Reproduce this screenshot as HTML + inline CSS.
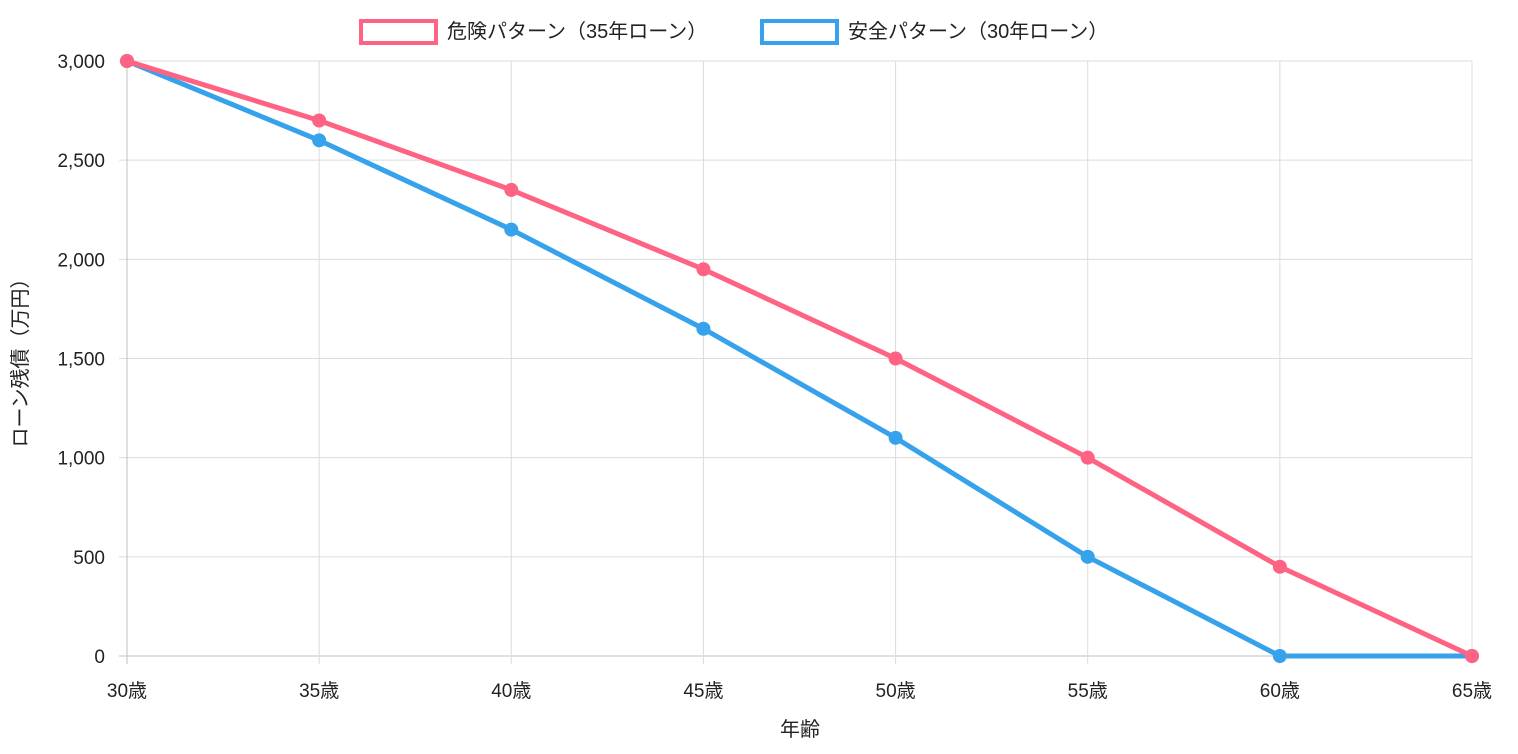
<!DOCTYPE html>
<html><head><meta charset="utf-8"><style>
body{margin:0;background:#fff;}
svg text{font-family:"Liberation Sans","Noto Sans CJK JP",sans-serif;fill:#222;}
</style></head><body>
<svg id="chart" width="1518" height="749" xmlns="http://www.w3.org/2000/svg">
<g id="grid"></g>
<g id="axes"></g>
<g id="series"></g>
<g>
<g>
<rect x="361" y="21" width="75" height="22" fill="#fff" stroke="#ff6384" stroke-width="4"/>
<text x="447" y="38" font-size="20">危険パターン（35年ローン）</text></g>
<g>
<rect x="762" y="21" width="75" height="22" fill="#fff" stroke="#36a2eb" stroke-width="4"/>
<text x="848" y="38" font-size="20">安全パターン（30年ローン）</text></g>
</g>
<text transform="translate(27,358) rotate(-90)" text-anchor="middle" font-size="20">ローン残債（万円）</text>
<text x="800" y="736" text-anchor="middle" font-size="20">年齢</text>
</svg>
<script>
const categories=["30歳","35歳","40歳","45歳","50歳","55歳","60歳","65歳"];
const dangerValues=[3000,2700,2350,1950,1500,1000,450,0];
const safeValues=[3000,2600,2150,1650,1100,500,0,0];
const yTicks=[0,500,1000,1500,2000,2500,3000];
const NS="http://www.w3.org/2000/svg";
const x0=127,x1=1472,yTop=61,yBot=656,yMax=3000;
const xs=i=>x0+(x1-x0)*i/(categories.length-1);
const ys=v=>yBot-(yBot-yTop)*v/yMax;
function mk(tag,attrs,parent){const e=document.createElementNS(NS,tag);for(const k in attrs)e.setAttribute(k,attrs[k]);parent.appendChild(e);return e;}
const grid=document.getElementById('grid'),axes=document.getElementById('axes'),series=document.getElementById('series');
yTicks.forEach(t=>{
 const l=mk('line',{x1:x0-8,x2:x1,y1:ys(t),y2:ys(t),stroke:t===0?'#c0c0c0':'#dcdcdc','stroke-width':1},grid);
 
 
 const tx=mk('text',{x:x0-22,y:ys(t)+7,'text-anchor':'end','font-size':19},axes);
 tx.textContent=t.toLocaleString('en-US');
 
 
});
categories.forEach((c,i)=>{
 const l=mk('line',{x1:xs(i),x2:xs(i),y1:yTop,y2:yBot+8,stroke:i===0?'#c0c0c0':'#dcdcdc','stroke-width':1},grid);
 
 
 const tx=mk('text',{x:xs(i),y:697,'text-anchor':'middle','font-size':19},axes);
 tx.textContent=c;
 
 
});
function draw(vals,color,name){
 const p=mk('polyline',{points:vals.map((v,i)=>xs(i)+','+ys(v)).join(' '),fill:'none',stroke:color,'stroke-width':5,'stroke-linejoin':'round'},series);
 
 
 vals.forEach((v,i)=>{
  const c=mk('circle',{cx:xs(i),cy:ys(v),r:7,fill:color},series);
  
  
 });
}
draw(safeValues,'#36a2eb','safe');
draw(dangerValues,'#ff6384','danger');
</script>
</body></html>
